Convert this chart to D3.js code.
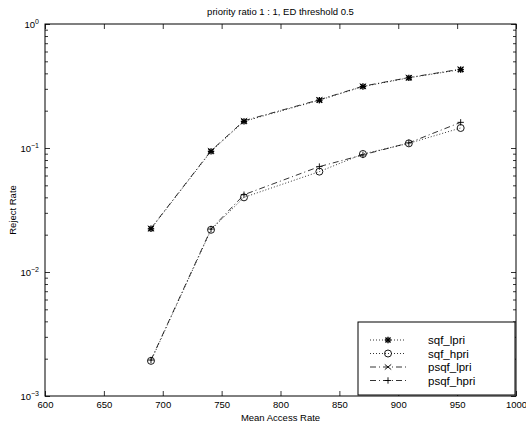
<!DOCTYPE html>
<html>
<head>
<meta charset="utf-8">
<script src="https://cdn.jsdelivr.net/npm/d3@7"></script>
<style>
  body { margin: 0; background: #fff; }
  svg { display: block; font-family: "Liberation Sans", Arial, sans-serif; }
</style>
</head>
<body>
<svg id="chart" width="526" height="424"></svg>
<script>
// data
const accessRate = [690, 741, 769, 833, 870, 909, 953];
const sqfLpri  = [0.0223, 0.094, 0.164, 0.243, 0.313, 0.368, 0.429];
const sqfHpri  = [0.00192, 0.0219, 0.040, 0.0645, 0.0895, 0.109, 0.145];
const psqfLpri = [0.0225, 0.095, 0.166, 0.245, 0.315, 0.370, 0.432];
const psqfHpri = [0.00195, 0.0222, 0.042, 0.0708, 0.088, 0.110, 0.161];
const xTicks = [600, 650, 700, 750, 800, 850, 900, 950, 1000];
const yDecades = [1e-3, 1e-2, 1e-1, 1];
const seriesNames = ["sqf_lpri", "sqf_hpri", "psqf_lpri", "psqf_hpri"];

const svg = d3.select("#chart");
const mLeft = 45, mRight = 516, mTop = 24, mBottom = 396;

const x = d3.scaleLinear().domain([600, 1000]).range([mLeft, mRight]);
const y = d3.scaleLog().domain([1e-3, 1]).range([mBottom, mTop]);

const series = [
  { name: seriesNames[0], values: sqfLpri,  dash: "1,2",     marker: "star" },
  { name: seriesNames[1], values: sqfHpri,  dash: "1,2",     marker: "circle" },
  { name: seriesNames[2], values: psqfLpri, dash: "6,3,1,3", marker: "x" },
  { name: seriesNames[3], values: psqfHpri, dash: "6,3,1,3", marker: "plus" }
];

// minor ticks for log axis
const minorTicks = [];
yDecades.slice(0, -1).forEach(d => {
  for (let k = 2; k <= 9; k++) minorTicks.push(d * k);
});

// axes box
svg.append("rect")
  .attr("x", mLeft).attr("y", mTop)
  .attr("width", mRight - mLeft).attr("height", mBottom - mTop)
  .attr("fill", "none").attr("stroke", "#000").attr("stroke-width", 1);

const tickStyle = g => {
  g.select(".domain").remove();
  g.selectAll(".tick line").attr("stroke", "#000").attr("stroke-width", 0.8);
  g.selectAll(".tick text").attr("font-size", 9.5).attr("fill", "#000");
};

// bottom axis, ticks inward
svg.append("g")
  .attr("transform", `translate(0,${mBottom})`)
  .call(d3.axisBottom(x).tickValues(xTicks).tickSize(-5).tickPadding(5).tickFormat(d3.format("d")))
  .call(tickStyle);

// top axis, ticks only
svg.append("g")
  .attr("transform", `translate(0,${mTop})`)
  .call(d3.axisTop(x).tickValues(xTicks).tickSize(-5).tickFormat(""))
  .call(tickStyle);

// left axis: decades with superscript labels
const yLeft = svg.append("g")
  .attr("transform", `translate(${mLeft},0)`)
  .call(d3.axisLeft(y).tickValues(yDecades).tickSize(-5).tickFormat(""))
  .call(tickStyle);

yLeft.selectAll(".tick").append("text")
  .attr("x", -6).attr("dy", "0.35em")
  .attr("text-anchor", "end").attr("font-size", 9.5).attr("fill", "#000")
  .each(function(d) {
    const t = d3.select(this);
    const e = Math.round(Math.log10(d));
    t.append("tspan").text("10");
    t.append("tspan").attr("dy", "-0.5em").attr("font-size", 7)
      .text(e === 0 ? "0" : "\u2212" + Math.abs(e));
  });

svg.append("g")
  .attr("transform", `translate(${mLeft},0)`)
  .call(d3.axisLeft(y).tickValues(minorTicks).tickSize(-3).tickFormat(""))
  .call(tickStyle);

// right axis ticks
svg.append("g")
  .attr("transform", `translate(${mRight},0)`)
  .call(d3.axisRight(y).tickValues(yDecades).tickSize(-5).tickFormat(""))
  .call(tickStyle);
svg.append("g")
  .attr("transform", `translate(${mRight},0)`)
  .call(d3.axisRight(y).tickValues(minorTicks).tickSize(-3).tickFormat(""))
  .call(tickStyle);

// labels
svg.append("text")
  .attr("x", (mLeft + mRight) / 2).attr("y", 15)
  .attr("text-anchor", "middle").attr("font-size", 9.5)
  .text("priority ratio 1 : 1, ED threshold 0.5");

svg.append("text")
  .attr("x", (mLeft + mRight) / 2).attr("y", 421)
  .attr("text-anchor", "middle").attr("font-size", 9.5)
  .text("Mean Access Rate");

svg.append("text")
  .attr("transform", `translate(16,${(mTop + mBottom) / 2}) rotate(-90)`)
  .attr("text-anchor", "middle").attr("font-size", 9.5)
  .text("Reject Rate");

// marker drawing
function drawMarker(g, type, cx, cy) {
  const s = 3.2;
  if (type === "circle") {
    g.append("circle").attr("cx", cx).attr("cy", cy).attr("r", 3.5)
      .attr("fill", "none").attr("stroke", "#000").attr("stroke-width", 0.9);
    return;
  }
  let segs = [];
  if (type === "plus" || type === "star") segs.push([-s, 0, s, 0], [0, -s, 0, s]);
  if (type === "star") segs.push([-s * 0.8, -s * 0.8, s * 0.8, s * 0.8], [-s * 0.8, s * 0.8, s * 0.8, -s * 0.8]);
  if (type === "x") segs = [[-s, -s * 0.8, s, s * 0.8], [-s, s * 0.8, s, -s * 0.8]];
  segs.forEach(p => {
    g.append("line")
      .attr("x1", cx + p[0]).attr("y1", cy + p[1])
      .attr("x2", cx + p[2]).attr("y2", cy + p[3])
      .attr("stroke", "#000").attr("stroke-width", type === "star" ? 1.4 : 0.9);
  });
}

const line = d3.line().x(d => x(d[0])).y(d => y(d[1]));
const plot = svg.append("g");

series.forEach(s => {
  const pts = accessRate.map((a, i) => [a, s.values[i]]);
  plot.append("path")
    .datum(pts)
    .attr("d", line)
    .attr("fill", "none")
    .attr("stroke", "#000")
    .attr("stroke-width", 0.8)
    .attr("stroke-dasharray", s.dash);
  const mg = plot.append("g");
  pts.forEach(p => drawMarker(mg, s.marker, x(p[0]), y(p[1])));
});

// legend
const lg = svg.append("g");
lg.append("rect")
  .attr("x", 358).attr("y", 322).attr("width", 157).attr("height", 73)
  .attr("fill", "#fff").attr("stroke", "#000").attr("stroke-width", 1);

series.forEach((s, i) => {
  const ly = 340 + i * 13.5;
  lg.append("line")
    .attr("x1", 370).attr("x2", 406).attr("y1", ly).attr("y2", ly)
    .attr("stroke", "#000").attr("stroke-width", 0.8)
    .attr("stroke-dasharray", s.dash);
  drawMarker(lg, s.marker, 388, ly);
  lg.append("text")
    .attr("x", 428).attr("y", ly).attr("dy", "0.35em")
    .attr("font-size", 11.5)
    .text(s.name);
});
</script>
</body>
</html>
